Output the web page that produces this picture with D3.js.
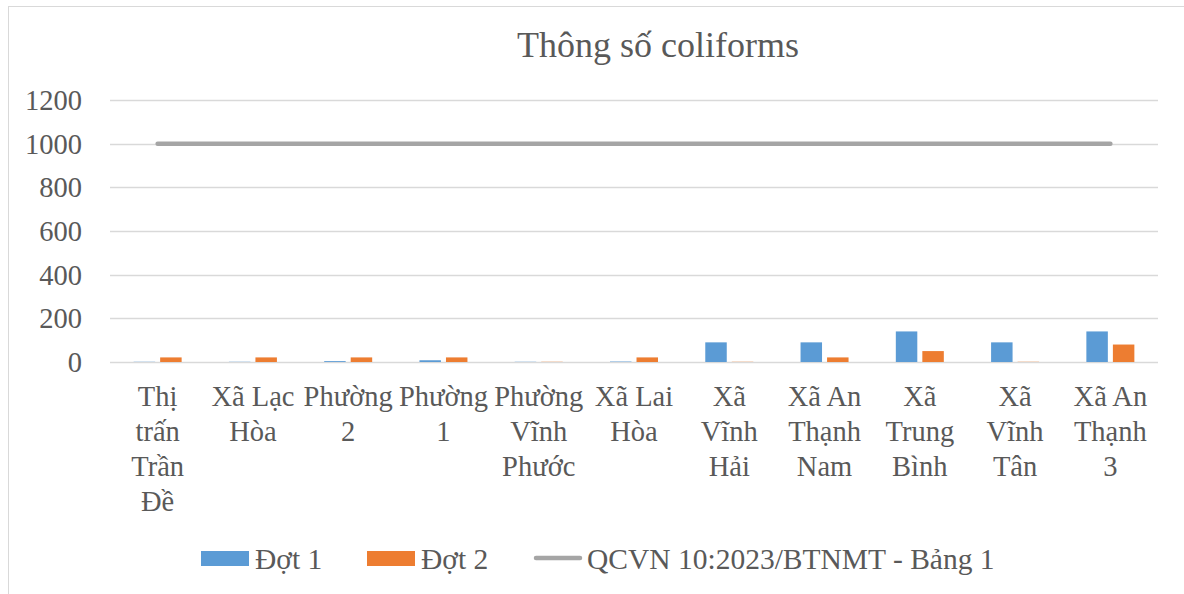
<!DOCTYPE html>
<html>
<head>
<meta charset="utf-8">
<script src="https://cdn.jsdelivr.net/npm/d3@7"></script>
<style>
  body { margin: 0; background: #fff; }
  svg, svg text, svg tspan { font-family: "Liberation Serif", "Times New Roman", serif; }
</style>
</head>
<body>
<div id="chart"></div>
<script>
// Chart data
const categories = [
  'Thị trấn Trần Đề', 'Xã Lạc Hòa', 'Phường 2', 'Phường 1', 'Phường Vĩnh Phước',
  'Xã Lai Hòa', 'Xã Vĩnh Hải', 'Xã An Thạnh Nam', 'Xã Trung Bình', 'Xã Vĩnh Tân',
  'Xã An Thạnh 3'
];
const seriesNames = ['Đợt 1', 'Đợt 2'];
const dot1 = [1, 1, 4, 8, 1, 2, 90, 90, 140, 90, 140];
const dot2 = [21, 21, 21, 21, 1, 21, 1, 21, 50, 1, 80];
const limitName = 'QCVN 10:2023/BTNMT - Bảng 1';
const limit = [1000, 1000, 1000, 1000, 1000, 1000, 1000, 1000, 1000, 1000, 1000];
const yTicks = [0, 200, 400, 600, 800, 1000, 1200];
const title = 'Thông số coliforms';

const colors = { 'Đợt 1': '#5b9bd5', 'Đợt 2': '#ed7d31', limit: '#a5a5a5' };
const FONT = '"Liberation Serif", "Times New Roman", serif';
const TEXT_COLOR = '#595959';

const width = 1184;
const height = 594;
const margin = { top: 100, right: 26, bottom: 232, left: 110 };
const innerW = width - margin.left - margin.right;
const innerH = height - margin.top - margin.bottom;

const svg = d3.select('#chart').append('svg')
    .attr('width', width)
    .attr('height', height);

// write a serif label inside a text element
function serifText(parent, str, size) {
  return parent.append('text')
      .style('font-family', FONT)
      .style('font-size', `${size}px`)
      .attr('fill', TEXT_COLOR)
      .text(str);
}

// Chart area border
svg.append('rect')
    .attr('x', 8.5).attr('y', 6.5)
    .attr('width', 1200).attr('height', 620)
    .attr('fill', 'none')
    .attr('stroke', '#d9d9d9');

serifText(svg, title, 36)
    .attr('x', 658)
    .attr('y', 57)
    .attr('text-anchor', 'middle');

const g = svg.append('g')
    .attr('transform', `translate(${margin.left}, ${margin.top})`);

const x0 = d3.scaleBand()
    .domain(categories)
    .range([0, innerW])
    .padding(0);

const bw = x0.bandwidth();
const x1 = d3.scaleBand()
    .domain(seriesNames)
    .range([bw / 2 - 24, bw / 2 + 24])
    .paddingInner(0.19);

const y = d3.scaleLinear()
    .domain([0, 1200])
    .range([innerH, 0]);

// Gridlines
g.append('g')
    .selectAll('line')
    .data(yTicks)
  .enter().append('line')
    .attr('x1', 0)
    .attr('x2', innerW)
    .attr('y1', d => Math.round(y(d)) + 0.5)
    .attr('y2', d => Math.round(y(d)) + 0.5)
    .attr('stroke', '#d9d9d9')
    .attr('stroke-width', 1.5);

// Y tick labels
const yAxis = g.append('g');
yTicks.forEach((v) => {
  serifText(yAxis, String(v), 28.5)
      .attr('x', -28)
      .attr('y', y(v) + 10)
      .attr('text-anchor', 'end');
});

// Bars
const rows = categories.map((c, i) => ({ cat: c, values: [dot1[i], dot2[i]] }));
const groups = g.append('g')
    .selectAll('g')
    .data(rows)
  .enter().append('g')
    .attr('transform', d => `translate(${x0(d.cat)}, 0)`);

groups.selectAll('rect')
    .data(d => seriesNames.map((s, j) => ({ s, v: d.values[j] })))
  .enter().append('rect')
    .attr('x', d => x1(d.s))
    .attr('width', x1.bandwidth())
    .attr('y', d => y(d.v))
    .attr('height', d => y(0) - y(d.v))
    .attr('fill', d => colors[d.s]);

// Limit line
const line = d3.line()
    .x((d, i) => x0(categories[i]) + bw / 2)
    .y(d => y(d));

g.append('path')
    .datum(limit)
    .attr('d', line)
    .attr('fill', 'none')
    .attr('stroke', colors.limit)
    .attr('stroke-width', 4.5)
    .attr('stroke-linecap', 'round');

// Category labels, wrapped like the spreadsheet does
const labels = g.append('g')
    .selectAll('text')
    .data(categories)
  .enter().append('text')
    .attr('text-anchor', 'middle')
    .style('font-family', FONT)
    .style('font-size', '28.5px')
    .attr('fill', TEXT_COLOR)
    .attr('transform', d => `translate(${x0(d) + bw / 2}, ${innerH + 44})`);

labels.each(function wrap(d) {
  const text = d3.select(this);
  const words = d.split(' ');
  const lines = [];
  let current = [];
  const probe = text.append('tspan');
  words.forEach((w) => {
    const trial = current.concat([w]).join(' ');
    probe.text(trial);
    if (current.length && probe.node().getComputedTextLength() > 85) {
      lines.push(current.join(' '));
      current = [w];
    } else {
      current.push(w);
    }
  });
  lines.push(current.join(' '));
  probe.remove();
  lines.forEach((l, i) => {
    text.append('tspan')
        .attr('x', 0)
        .attr('y', i * 35)
        .text(l);
  });
});

// Legend
const legend = svg.append('g')
    .attr('transform', 'translate(0, 558)');

const legendItems = [
  { name: seriesNames[0], type: 'rect', color: colors['Đợt 1'], x: 201 },
  { name: seriesNames[1], type: 'rect', color: colors['Đợt 2'], x: 367 },
  { name: limitName, type: 'line', color: colors.limit, x: 533 }
];

legendItems.forEach((item) => {
  if (item.type === 'rect') {
    legend.append('rect')
        .attr('x', item.x)
        .attr('y', -7)
        .attr('width', 48)
        .attr('height', 15)
        .attr('fill', item.color);
  } else {
    legend.append('line')
        .attr('x1', item.x + 3)
        .attr('x2', item.x + 47)
        .attr('y1', 0)
        .attr('y2', 0)
        .attr('stroke', item.color)
        .attr('stroke-width', 4.5)
        .attr('stroke-linecap', 'round');
  }
  serifText(legend, item.name, 29.5)
      .attr('x', item.x + 54)
      .attr('y', 11);
});
</script>
</body>
</html>
